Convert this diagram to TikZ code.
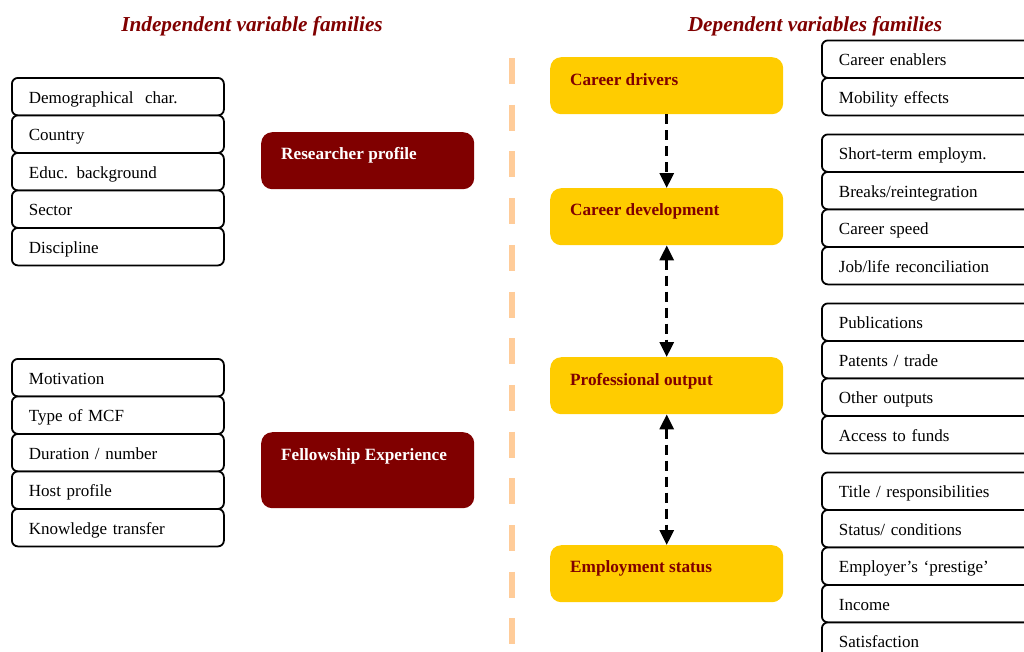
\documentclass[tikz,border=0pt]{standalone}
\usepackage{fontspec}
\setmainfont{Liberation Serif}
\usetikzlibrary{arrows.meta}
\definecolor{dred}{HTML}{800000}
\definecolor{gold}{HTML}{FFCC00}
\definecolor{peach}{HTML}{FFCC99}
\begin{document}
\begin{tikzpicture}[x=1pt,y=-1pt,
  wbox/.style={draw=black,line width=1.8pt,rounded corners=6pt,fill=white,anchor=north west,
    minimum height=37.5pt,text width=178pt,inner xsep=17pt,inner ysep=0pt,align=left,
    text height=14pt,text depth=1pt,
    font=\fontsize{17}{20}\selectfont},
  wboxr/.style={wbox,text width=240pt},
  rbox/.style={fill=dred,rounded corners=11pt,anchor=north west,minimum width=213pt,inner sep=0pt},
  ybox/.style={fill=gold,rounded corners=11pt,anchor=north west,minimum width=233pt,minimum height=57pt,inner sep=0pt},
  rtext/.style={anchor=west,text=white,inner sep=0pt,font=\fontsize{17.2}{20}\selectfont\bfseries},
  ytext/.style={anchor=west,text=dred,inner sep=0pt,font=\fontsize{17.2}{20}\selectfont\bfseries},
  ttl/.style={text=dred,inner sep=0pt,font=\fontsize{21.3}{25}\selectfont\bfseries\itshape},
  arr/.style={line width=3pt,dash pattern=on 10pt off 6pt,{Triangle[length=15pt,width=14pt]}-{Triangle[length=15pt,width=14pt]}},
  arr1/.style={line width=3pt,dash pattern=on 10pt off 6pt,-{Triangle[length=15pt,width=14pt]}}
]
\useasboundingbox (0,0) rectangle (1024,651);
\clip (0,0) rectangle (1024,651);

% titles
\node[ttl] (t1) at (252,26.5) {Independent variable families};
\node[ttl] (t2) at (815,26.5) {Dependent variables families};

% divider
\draw[peach,line width=6.5pt,dash pattern=on 26pt off 20.7pt] (512,58) coordinate (dv1) -- (512,660) coordinate (dv2);

% left boxes group 1
\node[wbox] (l1) at (11,77) {Demographical\ \ char.};
\node[wbox] (l2) at (11,114.5) {Country};
\node[wbox] (l3) at (11,152) {Educ. background};
\node[wbox] (l4) at (11,189.5) {Sector};
\node[wbox] (l5) at (11,227) {Discipline};

% left boxes group 2
\node[wbox] (m1) at (11,358) {Motivation};
\node[wbox] (m2) at (11,395.5) {Type of MCF};
\node[wbox] (m3) at (11,433) {Duration / number};
\node[wbox] (m4) at (11,470.5) {Host profile};
\node[wbox] (m5) at (11,508) {Knowledge transfer};

% red boxes
\node[rbox,minimum height=57pt] (rp) at (261,132) {};
\node[rtext] (rpt) at (281,155) {Researcher profile};
\node[rbox,minimum height=76pt] (fe) at (261,432) {};
\node[rtext] (fet) at (281,456) {Fellowship Experience};

% yellow boxes
\node[ybox] (cdr) at (550,57) {};
\node[ytext] (cdrt) at (570,80) {Career drivers};
\node[ybox] (cdv) at (550,188) {};
\node[ytext] (cdvt) at (570,211) {Career development};
\node[ybox] (po) at (550,357) {};
\node[ytext] (pot) at (570,381) {Professional output};
\node[ybox] (es) at (550,545) {};
\node[ytext] (est) at (570,568) {Employment status};

% arrows
\draw[arr1] (cdr.south) -- (cdv.north);
\draw[arr] (cdv.south) -- (po.north);
\draw[arr] (po.south) -- (es.north);

% right boxes
\node[wboxr] (r1) at (821,39.5) {Career enablers};
\node[wboxr] (r2) at (821,77) {Mobility effects};

\node[wboxr] (r3) at (821,133.5) {Short-term employm.};
\node[wboxr] (r4) at (821,171) {Breaks/reintegration};
\node[wboxr] (r5) at (821,208.5) {Career speed};
\node[wboxr] (r6) at (821,246) {Job/life reconciliation};

\node[wboxr] (r7) at (821,302.5) {Publications};
\node[wboxr] (r8) at (821,340) {Patents / trade};
\node[wboxr] (r9) at (821,377.5) {Other outputs};
\node[wboxr] (r10) at (821,415) {Access to funds};

\node[wboxr] (r11) at (821,471.5) {Title / responsibilities};
\node[wboxr] (r12) at (821,509) {Status/ conditions};
\node[wboxr] (r13) at (821,546.5) {Employer’s ‘prestige’};
\node[wboxr] (r14) at (821,584) {Income};
\node[wboxr] (r15) at (821,621.5) {Satisfaction};
\end{tikzpicture}
\end{document}
